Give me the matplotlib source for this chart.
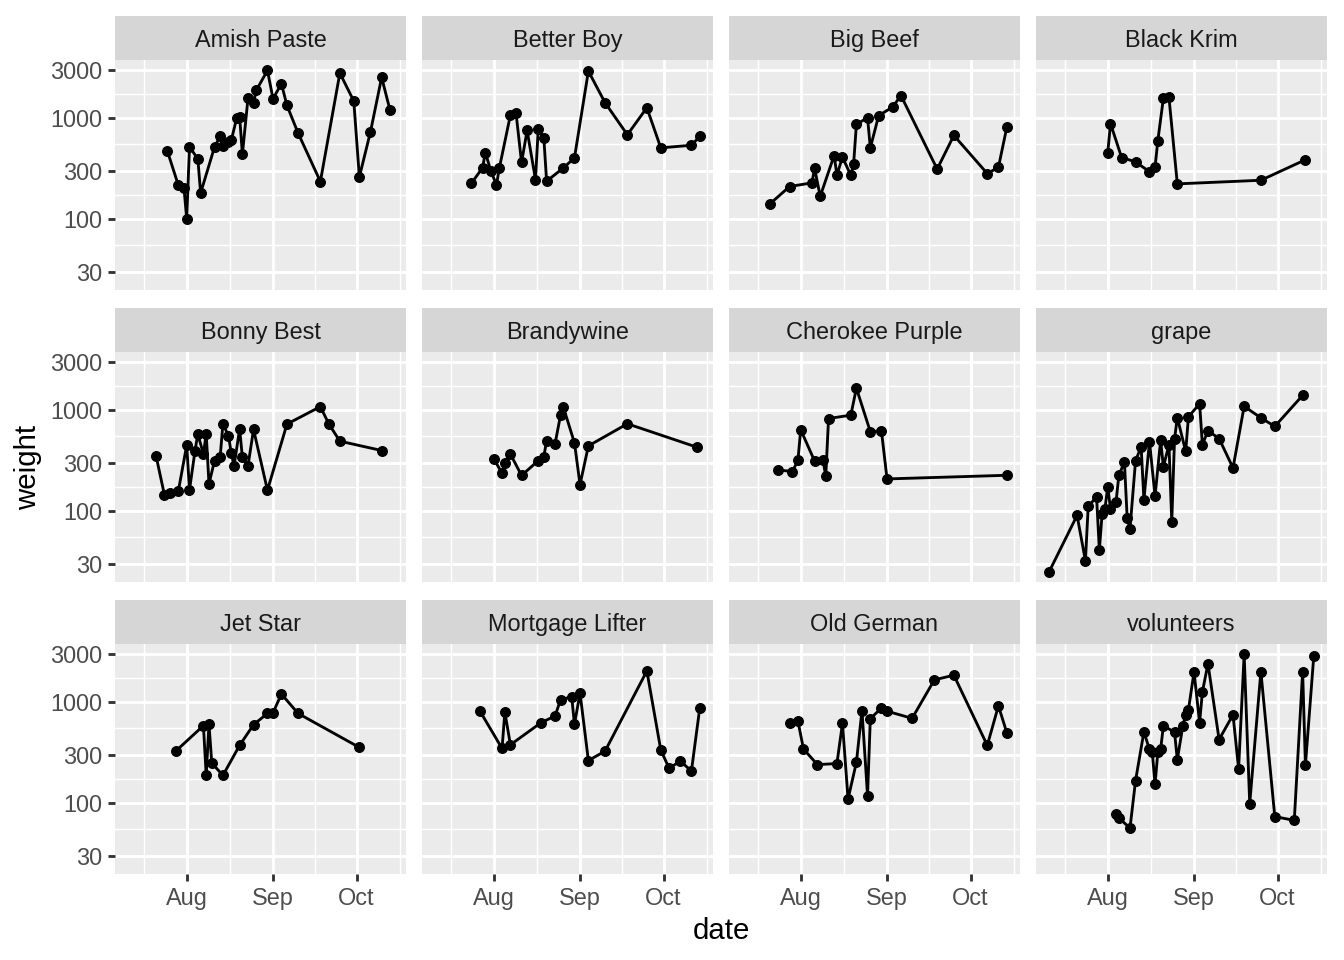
import numpy as np
import pandas as pd
import matplotlib
matplotlib.use("Agg")
import matplotlib.pyplot as plt
import matplotlib.dates as mdates
import matplotlib.ticker as mticker

plt.rcParams['font.family'] = ['Liberation Sans', 'DejaVu Sans']

YEAR = '2020-'

################# Data ################
amish_dates = ['07-25', '07-29', '07-31', '08-01', '08-02', '08-05', '08-06', '08-11', '08-13', '08-14',
               '08-16', '08-17', '08-19', '08-20', '08-21', '08-23', '08-25', '08-26', '08-30', '09-01',
               '09-04', '09-06', '09-10', '09-18', '09-25', '09-30', '10-02', '10-06', '10-10', '10-13']
amish_wt = [475, 215, 204, 100, 516, 393, 180, 516, 656, 531, 573, 600, 1008, 1030, 437, 1560, 1413, 1882,
            2955, 1547, 2187, 1331, 707, 234, 2782, 1468, 260, 729, 2523, 1198]

betterboy_dates = ['07-24', '07-28', '07-29', '07-31', '08-02', '08-03', '08-07', '08-09', '08-11', '08-13',
                   '08-16', '08-17', '08-19', '08-20', '08-26', '08-30', '09-04', '09-10', '09-18', '09-25',
                   '09-30', '10-11', '10-14']
betterboy_wt = [225, 321, 454, 296, 217, 316, 1069, 1128, 362, 751, 245, 780, 632, 236, 319, 402, 2911, 1413,
                681, 1262, 505, 536, 656]

bigbeef_dates = ['07-21', '07-28', '08-05', '08-06', '08-08', '08-13', '08-14', '08-16', '08-19', '08-20',
                 '08-21', '08-25', '08-26', '08-29', '09-03', '09-06', '09-19', '09-25', '10-07', '10-11', '10-14']
bigbeef_wt = [141, 209, 227, 316, 167, 424, 272, 408, 270, 351, 861, 1008, 505, 1054, 1282, 1667, 311, 671,
              281, 324, 804]

blackkrim_dates = ['08-01', '08-02', '08-06', '08-11', '08-16', '08-18', '08-19', '08-21', '08-23', '08-26',
                   '09-25', '10-11']
blackkrim_wt = [444, 880, 405, 367, 293, 326, 595, 1571, 1595, 222, 241, 385]

bonny_dates = ['07-21', '07-24', '07-26', '07-29', '08-01', '08-02', '08-04', '08-05', '08-07', '08-08',
               '08-09', '08-11', '08-13', '08-14', '08-16', '08-17', '08-18', '08-20', '08-21', '08-23',
               '08-25', '08-30', '09-06', '09-18', '09-21', '09-25', '10-10']
bonny_wt = [349, 144, 151, 157, 447, 161, 396, 577, 365, 582, 185, 314, 338, 724, 556, 373, 278, 646, 338,
            278, 641, 160, 724, 1078, 729, 490, 396]

brandy_dates = ['08-01', '08-04', '08-05', '08-07', '08-11', '08-17', '08-19', '08-20', '08-23', '08-25',
                '08-26', '08-30', '09-01', '09-04', '09-18', '10-13']
brandy_wt = [328, 236, 298, 365, 224, 314, 344, 497, 457, 887, 1069, 471, 182, 440, 729, 427]

cherokee_dates = ['07-24', '07-29', '07-31', '08-01', '08-06', '08-09', '08-10', '08-11', '08-19', '08-21',
                  '08-26', '08-30', '09-01', '10-14']
cherokee_wt = [254, 245, 316, 637, 311, 319, 220, 822, 887, 1643, 609, 618, 207, 225]

grape_dates = ['07-11', '07-21', '07-24', '07-25', '07-28', '07-29', '07-30', '07-31', '08-01', '08-02',
               '08-04', '08-05', '08-07', '08-08', '08-09', '08-11', '08-13', '08-14', '08-16', '08-18',
               '08-20', '08-21', '08-23', '08-24', '08-25', '08-26', '08-29', '08-30', '09-03', '09-04',
               '09-06', '09-10', '09-15', '09-19', '09-25', '09-30', '10-10']
grape_wt = [25, 90, 32, 111, 137, 41, 94, 104, 173, 105, 123, 224, 305, 84, 66, 314, 430, 129, 486, 140,
            500, 274, 451, 78, 516, 841, 388, 854, 1153, 451, 623, 520, 266, 1086, 835, 687, 1393]

jetstar_dates = ['07-28', '08-07', '08-08', '08-09', '08-10', '08-14', '08-20', '08-25', '08-30', '09-01',
                 '09-04', '09-10', '10-02']
jetstar_wt = [324, 582, 188, 604, 248, 187, 371, 595, 769, 780, 1198, 769, 354]

mortgage_dates = ['07-27', '08-04', '08-05', '08-07', '08-18', '08-23', '08-25', '08-29', '08-30', '09-01',
                  '09-04', '09-10', '09-25', '09-30', '10-03', '10-07', '10-11', '10-14']
mortgage_wt = [816, 346, 792, 376, 623, 724, 1046, 1128, 600, 1225, 262, 326, 2028, 334, 219, 260, 206, 873]

oldgerman_dates = ['07-28', '07-31', '08-02', '08-07', '08-14', '08-16', '08-18', '08-21', '08-23', '08-25',
                   '08-26', '08-30', '09-01', '09-10', '09-18', '09-25', '10-07', '10-11', '10-14']
oldgerman_wt = [623, 646, 341, 239, 245, 613, 109, 252, 822, 118, 681, 873, 810, 687, 1655, 1840, 371, 914, 497]

volunteers_dates = ['08-04', '08-05', '08-09', '08-11', '08-14', '08-16', '08-17', '08-18', '08-19', '08-20',
                    '08-21', '08-25', '08-26', '08-28', '08-29', '08-30', '09-01', '09-03', '09-04', '09-06',
                    '09-10', '09-15', '09-17', '09-19', '09-21', '09-25', '09-30', '10-07', '10-10', '10-11',
                    '10-14']
volunteers_wt = [77, 71, 56, 166, 505, 338, 319, 152, 319, 338, 582, 500, 268, 582, 746, 841, 1982, 623, 1253,
                 2394, 424, 746, 217, 2955, 98, 1997, 73, 67, 1997, 236, 2846]

varieties = ['Amish Paste', 'Better Boy', 'Big Beef', 'Black Krim',
             'Bonny Best', 'Brandywine', 'Cherokee Purple', 'grape',
             'Jet Star', 'Mortgage Lifter', 'Old German', 'volunteers']
series = [(amish_dates, amish_wt), (betterboy_dates, betterboy_wt), (bigbeef_dates, bigbeef_wt),
          (blackkrim_dates, blackkrim_wt), (bonny_dates, bonny_wt), (brandy_dates, brandy_wt),
          (cherokee_dates, cherokee_wt), (grape_dates, grape_wt), (jetstar_dates, jetstar_wt),
          (mortgage_dates, mortgage_wt), (oldgerman_dates, oldgerman_wt), (volunteers_dates, volunteers_wt)]

y_breaks = [30, 100, 300, 1000, 3000]
x_breaks = ['08-01', '09-01', '10-01']
#######################################################

W, H, DPI = 1344, 960, 192
fig = plt.figure(figsize=(W / DPI, H / DPI), dpi=DPI)
fig.patch.set_facecolor('white')

col_left = [115, 422, 729, 1036]
row_top = [60, 352, 644]
pw, ph, sh = 291, 230, 44

def box(x, y, w, h):
    return [x / W, 1 - (y + h) / H, w / W, h / H]

def to_num(ds):
    return mdates.date2num(pd.to_datetime([YEAR + d for d in ds]))

# ggplot-like limits: 5% expansion of the data range
all_x = np.concatenate([to_num(d) for d, _ in series])
all_y = np.log10(np.concatenate([np.array(w, float) for _, w in series]))
xpad = (all_x.max() - all_x.min()) * 0.05
ypad = (all_y.max() - all_y.min()) * 0.05
xlim = (all_x.min() - xpad, all_x.max() + xpad)
ylim = (10 ** (all_y.min() - ypad), 10 ** (all_y.max() + ypad))

def minor_breaks(b):
    b = np.asarray(b, float)
    bd = b[1] - b[0]
    b = np.concatenate([[b[0] - bd], b, [b[-1] + bd]])
    return (b[:-1] + b[1:]) / 2

xb = to_num(x_breaks)
xm = minor_breaks(xb)
yb = np.log10(y_breaks)
ym = 10 ** minor_breaks(yb)

lw = 0.5 * 72.27 / 25.4 * 0.75  # ggplot 0.5mm line in pt

for i, (name, (ds, ws)) in enumerate(zip(varieties, series)):
    r, c = divmod(i, 4)
    ax = fig.add_axes(box(col_left[c], row_top[r], pw, ph))
    ax.set_facecolor('#EBEBEB')
    ax.set_yscale('log')
    ax.set_xlim(xlim)
    ax.set_ylim(ylim)
    ax.yaxis.set_major_locator(mticker.FixedLocator(y_breaks))
    ax.yaxis.set_major_formatter(mticker.FixedFormatter([str(v) for v in y_breaks]))
    ax.yaxis.set_minor_locator(mticker.FixedLocator(ym))
    ax.yaxis.set_minor_formatter(mticker.NullFormatter())
    ax.xaxis.set_major_locator(mticker.FixedLocator(xb))
    ax.xaxis.set_major_formatter(mticker.FixedFormatter(['Aug', 'Sep', 'Oct']))
    ax.xaxis.set_minor_locator(mticker.FixedLocator(xm))
    ax.set_axisbelow(True)
    ax.grid(which='major', color='white', lw=lw)
    ax.grid(which='minor', color='white', lw=lw / 2)
    for s in ax.spines.values():
        s.set_visible(False)
    ax.tick_params(which='minor', length=0)
    ax.tick_params(which='major', length=2.75, width=lw, color='#333333', pad=2.2,
                   labelsize=8.8, labelcolor='#4D4D4D')
    if c != 0:
        ax.tick_params(axis='y', which='major', length=0, labelleft=False)
    if r != 2:
        ax.tick_params(axis='x', which='major', length=0, labelbottom=False)

    ax.plot(to_num(ds), ws, color='black', lw=lw, marker='o', ms=3.7,
            mfc='black', mec='black', mew=0.4, clip_on=False)

    st = fig.add_axes(box(col_left[c], row_top[r] - sh, pw, sh))
    st.set_facecolor('#D6D6D6')
    st.set_xticks([])
    st.set_yticks([])
    for s in st.spines.values():
        s.set_visible(False)
    st.text(0.5, 0.45, name, ha='center', va='center', fontsize=8.8, color='#1A1A1A',
            transform=st.transAxes)

fig.text(721 / W, 1 - 931 / H, 'date', ha='center', va='center', fontsize=11)
fig.text(28 / W, 1 - 467 / H, 'weight', ha='center', va='center', fontsize=11, rotation=90)

fig.savefig('out.png', dpi=DPI)
